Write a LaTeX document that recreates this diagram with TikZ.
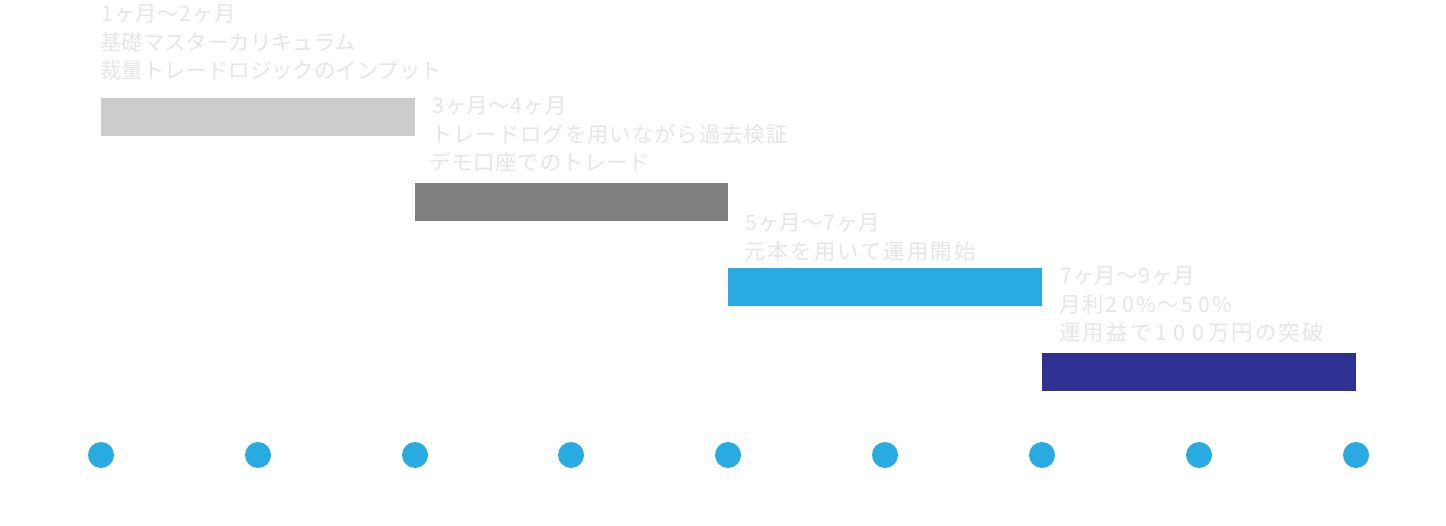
\documentclass[tikz,border=0pt]{standalone}
\usepackage{fontspec}
\setmainfont{Noto Sans CJK JP}
\newcommand\dgt[2][0.66em]{\makebox[#1][c]{#2}}
\newcommand\lsp[1]{\addfontfeature{LetterSpace=#1}}
\begin{document}
\begin{tikzpicture}[x=1pt,y=-1pt,
  bar/.style={fill=#1,draw=none},
  dot/.style={circle,fill=dotblue,draw=none,minimum size=26pt,inner sep=0pt},
  lbl/.style={anchor=north west,inner sep=0pt,align=left,text=lblgray,
    font=\fontsize{21.4}{28.6}\selectfont}]
\definecolor{dotblue}{HTML}{29ABE2}
\definecolor{lblgray}{HTML}{E6E6E6}
\definecolor{bargray}{HTML}{CCCCCC}
\definecolor{bardark}{HTML}{808080}
\definecolor{barnavy}{HTML}{2E3192}
\useasboundingbox (0,0) rectangle (1446,526);
\fill[white] (0,0) rectangle (1446,526);
\path[bar=bargray] (101,98) rectangle (415,136);
\path[bar=bardark] (415,183) rectangle (728,221);
\path[bar=dotblue] (728,268) rectangle (1042,306);
\path[bar=barnavy] (1042,353) rectangle (1356,391);
\foreach \i/\x in {1/101,2/258,3/415,4/571,5/728,6/885,7/1042,8/1199,9/1356}
  \node[dot] (d\i) at (\x,455) {};
\node[lbl] (t1) at (100,4.5) {\dgt{1}ヶ月〜\dgt{2}ヶ月\\基礎マスターカリキュラム\\裁量トレードロジックのインプット};
\node[lbl] (t2) at (431,96.5) {\dgt{3}ヶ月〜\dgt{4}ヶ月\\{\lsp{4.4}トレードログを用いながら過去検証}\\{\lsp{3.7}\hspace{-2pt}デモ口座でのトレード}};
\node[lbl] (t3) at (744,213.5) {\dgt{5}ヶ月〜\dgt{7}ヶ月\\{\lsp{9.3}元本を用いて運用開始}};
\node[lbl] (t4) at (1059,266.5) {\dgt{7}ヶ月〜\dgt{9}ヶ月\\{\lsp{6.7}月利\dgt[0.78em]{2}\dgt[0.78em]{0}\%〜\dgt[0.78em]{5}\dgt[0.78em]{0}\%}\\{\lsp{10.5}運用益で\dgt[0.88em]{1}\dgt[0.88em]{0}\dgt[0.88em]{0}万円の突破}};
\end{tikzpicture}
\end{document}
